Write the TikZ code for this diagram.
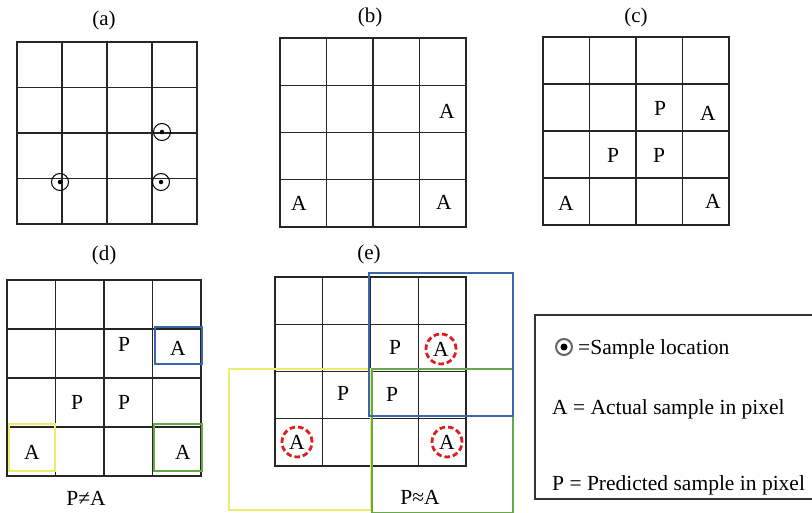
\documentclass[tikz,border=0pt]{standalone}
\usepackage{fontspec}
\setmainfont{Liberation Serif}
\definecolor{bbox}{RGB}{58,104,176}
\definecolor{ybox}{RGB}{236,236,110}
\definecolor{gbox}{RGB}{104,168,72}
\definecolor{rdash}{RGB}{222,30,30}
\newcommand\pixgrid[4]{%
  \draw[gridline] (#1,#2) rectangle (#3,#4);
  \foreach \i in {1,2,3}{%
    \draw[gridline] ({#1+(#3-#1)*\i/4},#2) -- ({#1+(#3-#1)*\i/4},#4);
    \draw[gridline] (#1,{#2+(#4-#2)*\i/4}) -- (#3,{#2+(#4-#2)*\i/4});
  }%
}
\begin{document}
\begin{tikzpicture}[x=1pt,y=-1pt,
  gridline/.style={line width=1.1pt,black!85},
  lbl/.style={font=\fontsize{21}{24}\selectfont,inner sep=0pt},
  ltr/.style={font=\fontsize{21.5}{25}\selectfont,inner sep=0pt},
  legtxt/.style={font=\fontsize{21.5}{25}\selectfont,inner sep=0pt,anchor=west},
  sloc/.style={circle,draw,line width=1pt,minimum size=17pt,inner sep=0pt},
  sdot/.style={circle,fill,minimum size=4.5pt,inner sep=0pt},
  bluebox/.style={draw=bbox,line width=2pt},
  yellowbox/.style={draw=ybox,line width=2pt},
  greenbox/.style={draw=gbox,line width=2pt},
  redring/.style={circle,draw=rdash,line width=2.8pt,dash pattern=on 5.5pt off 3pt,minimum width=30pt,minimum height=27pt,inner sep=0pt}]
\useasboundingbox (0,0) rectangle (812,512);
\fill[white] (0,0) rectangle (812,512);

% (a)
\node[lbl] (la) at (104,20) {(a)};
\pixgrid{17}{42}{197}{224}
\node[sloc] (c1) at (162,132) {};
\node[sdot] (d1) at (162,132) {};
\node[sloc] (c2) at (60,182) {};
\node[sdot] (d2) at (60,182) {};
\node[sloc] (c3) at (161,182) {};
\node[sdot] (d3) at (161,182) {};

% (b)
\node[lbl] (lb) at (370,17) {(b)};
\pixgrid{280}{38}{466}{227}
\node[ltr] (b1) at (447,111) {A};
\node[ltr] (b2) at (299,203) {A};
\node[ltr] (b3) at (444,202) {A};

% (c)
\node[lbl] (lc) at (636,17) {(c)};
\pixgrid{543}{37}{729}{225}
\node[ltr] (cp1) at (660,108) {P};
\node[ltr] (cp2) at (613,155) {P};
\node[ltr] (cp3) at (659,155) {P};
\node[ltr] (ca1) at (708,113) {A};
\node[ltr] (ca2) at (566,203) {A};
\node[ltr] (ca3) at (713,201) {A};

% (d)
\node[lbl] (ld) at (104,255) {(d)};
\pixgrid{7}{280}{201}{476}
\draw[bluebox] (155,327) rectangle (202,364);
\draw[yellowbox] (9,424) rectangle (55,471);
\draw[greenbox] (154,424) rectangle (202,471);
\node[ltr] (dp1) at (124,344) {P};
\node[ltr] (dp2) at (77,402) {P};
\node[ltr] (dp3) at (124,402) {P};
\node[ltr] (da1) at (178,348) {A};
\node[ltr] (da2) at (32,452) {A};
\node[ltr] (da3) at (183,452) {A};
\node[ltr] (dne) at (86,498) {P≠A};

% (e)
\node[lbl] (le) at (369,254) {(e)};
\pixgrid{275}{277}{466}{466}
\draw[yellowbox] (229,369) rectangle (371,510);
\draw[greenbox] (372,369) rectangle (513,513);
\draw[bluebox] (369,273) rectangle (513,416);
\node[ltr] (ep1) at (395,347) {P};
\node[ltr] (ep2) at (343,393) {P};
\node[ltr] (ep3) at (392,394) {P};
\node[ltr] (ea1) at (441,349) {A};
\node[ltr] (ea2) at (297,442) {A};
\node[ltr] (ea3) at (447,442) {A};
\node[redring] (er1) at (441,349) {};
\node[redring] (er2) at (297,442) {};
\node[redring] (er3) at (447,442) {};
\node[ltr] (eap) at (420,497) {P≈A};

% legend
\draw[line width=1.2pt,black!80] (535,315) rectangle (815,499);
\node[circle,draw=black!60,line width=2pt,minimum size=16pt,inner sep=0pt] (ls) at (564,347) {};
\node[circle,fill=black,minimum size=7pt,inner sep=0pt] (lsd) at (564,347) {};
\node[legtxt] (t1) at (578,349) {=Sample location};
\node[legtxt] (t2) at (552,409) {A = Actual sample in pixel};
\node[legtxt] (t3) at (552,485) {P = Predicted sample in pixel};
\end{tikzpicture}
\end{document}
